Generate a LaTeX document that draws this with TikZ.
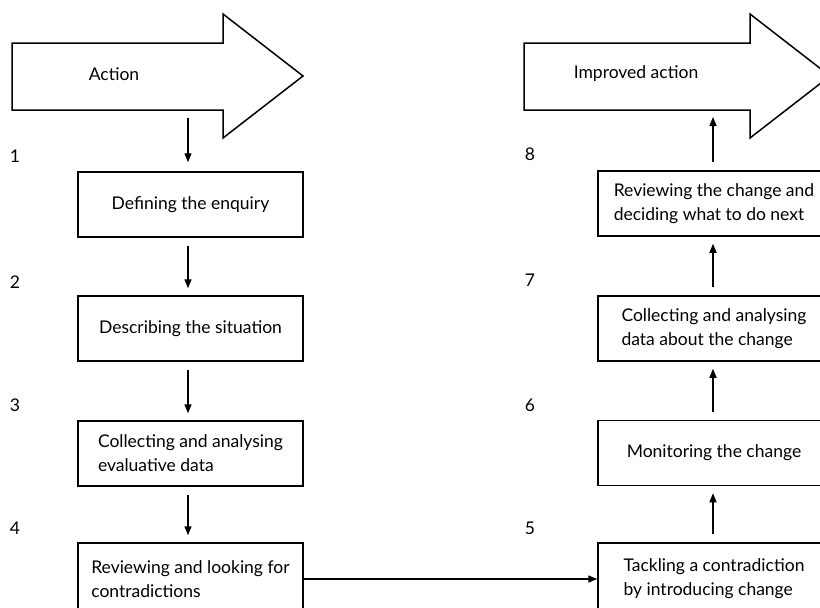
\documentclass[tikz,border=0pt]{standalone}
\usepackage{fontspec}
\setmainfont{Lato}
\usetikzlibrary{arrows.meta}
\begin{document}
\begin{tikzpicture}[x=1pt,y=-1pt,
  every node/.style={font=\fontsize{17.5}{24}\selectfont},
  box/.style={draw, line width=1.5pt, inner sep=0pt, minimum height=65pt},
  lbox/.style={box, minimum width=225pt},
  rbox/.style={box, minimum width=232pt},
  bigarrow/.style={draw, line width=1.5pt, line join=miter},
  num/.style={inner sep=0pt},
  conn/.style={line width=1.4pt, -{Triangle[length=9pt,width=7pt]}, shorten <=8pt, shorten >=7pt}]
\path[use as bounding box, clip] (0,0) rectangle (820,608);
\fill[white] (0,0) rectangle (820,608);

% big arrows
\draw[bigarrow] (12,43) -- (223,43) -- (223,14) -- (303,76) -- (223,138) -- (223,110) -- (12,110) -- cycle;
\node (act) at (114,74) {Action};
\coordinate (actbot) at (188,110);

\draw[bigarrow] (524,43) -- (750,43) -- (750,14) -- (830,76) -- (750,138) -- (750,110) -- (524,110) -- cycle;
\node (imp) at (636,74) {Improved action};
\coordinate (impbot) at (713,110);

% left boxes
\node[lbox, align=center] (b1) at (190.5,204.5) {Defining the enquiry};
\node[lbox, align=center] (b2) at (190.5,328.5) {Describing the situation};
\node[lbox, align=left] (b3) at (190.5,453.5) {Collecting and analysing\\evaluative data};
\node[lbox, align=left, minimum height=72pt] (b4) at (190.5,579) {Reviewing and looking for\\contradictions};

% right boxes
\node[rbox, align=left] (b8) at (714,203.5) {Reviewing the change and\\deciding what to do next};
\node[rbox, align=left] (b7) at (714,328.5) {Collecting and analysing\\data about the change};
\node[rbox, align=center] (b6) at (714,453) {Monitoring the change};
\node[rbox, align=left, minimum height=72pt] (b5) at (714,579) {Tackling a contradiction\\by introducing change};

% numbers
\node[num] (n1) at (15,156) {1};
\node[num] (n2) at (15,282) {2};
\node[num] (n3) at (15,405) {3};
\node[num] (n4) at (15,528) {4};
\node[num] (n8) at (530,154) {8};
\node[num] (n7) at (530,280) {7};
\node[num] (n6) at (530,405) {6};
\node[num] (n5) at (530,528) {5};

% connectors
\draw[conn, shorten >=9pt] (actbot) -- (actbot |- b1.north);
\draw[conn] (b1.south -| actbot) -- (b2.north -| actbot);
\draw[conn] (b2.south -| actbot) -- (b3.north -| actbot);
\draw[conn] (b3.south -| actbot) -- (b4.north -| actbot);
\draw[conn, shorten <=0pt, shorten >=0pt] (b4.east) -- (b5.west);
\draw[conn] (b5.north -| impbot) -- (b6.south -| impbot);
\draw[conn] (b6.north -| impbot) -- (b7.south -| impbot);
\draw[conn] (b7.north -| impbot) -- (b8.south -| impbot);
\draw[conn] (b8.north -| impbot) -- (impbot);
\end{tikzpicture}
\end{document}
